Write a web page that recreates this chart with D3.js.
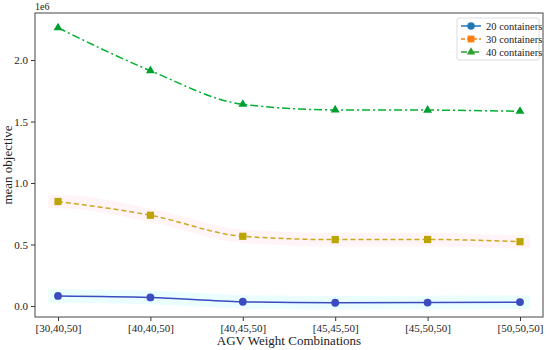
<!DOCTYPE html>
<html>
<head>
<meta charset="utf-8">
<script src="https://cdn.jsdelivr.net/npm/d3@7"></script>
<style>
  body { margin: 0; background: #fff; }
  svg text { font-family: "Liberation Serif", "DejaVu Serif", serif; fill: #222; }
</style>
</head>
<body>
<div class="chart"></div>
<script>
"use strict";

// data (objective values in units of 1e6)
const categories = ["[30,40,50]", "[40,40,50]", "[40,45,50]", "[45,45,50]", "[45,50,50]", "[50,50,50]"];
const seriesNames = ["20 containers", "30 containers", "40 containers"];
const c20 = [0.082, 0.070, 0.035, 0.027, 0.028, 0.032];
const c30 = [0.850, 0.738, 0.567, 0.540, 0.541, 0.523];
const c40 = [2.262, 1.913, 1.640, 1.594, 1.593, 1.583];
const yTicks = [0.0, 0.5, 1.0, 1.5, 2.0];

const W = 550, H = 350;
const MARGIN = { top: 13, right: 7, bottom: 33, left: 35 };
const WIDTH = W - MARGIN.left - MARGIN.right,
  HEIGHT = H - MARGIN.top - MARGIN.bottom;

const svg = d3.select(".chart").append("svg")
  .attr("width", W).attr("height", H);
const g = svg.append("g")
  .attr("transform", `translate(${MARGIN.left},${MARGIN.top})`);

const xScale = d3.scalePoint().domain(categories).range([23, WIDTH - 23]);
const yScale = d3.scaleLinear().domain([-0.089, 2.382]).range([HEIGHT, 0]);

const series = [
  { name: seriesNames[0], values: c20, line: "#3a4cc0", marker: "#3a4cc0", legend: "#1f77b4", band: "#eafdff", spread: 0.055, dash: null, shape: d3.symbolCircle, size: 48 },
  { name: seriesNames[1], values: c30, line: "#d0a820", marker: "#bba500", legend: "#ff7f0e", band: "#fff4f8", spread: 0.055, dash: "5,3", shape: d3.symbolSquare, size: 52 },
  { name: seriesNames[2], values: c40, line: "#00b030", marker: "#00a030", legend: "#2ca02c", band: null, spread: 0, dash: "8,3,2,3", shape: d3.symbolTriangle, size: 34 }
];

// bands
const pad = 10;
series.filter((s) => s.band).forEach((s) => {
  const pts = s.values.map((v, i) => ({ x: xScale(categories[i]), v }));
  pts.unshift({ x: pts[0].x - pad, v: pts[0].v });
  pts.push({ x: pts[pts.length - 1].x + pad, v: pts[pts.length - 1].v });
  const area = d3.area()
    .x((d) => d.x)
    .y0((d) => yScale(d.v - s.spread))
    .y1((d) => yScale(d.v + s.spread))
    .curve(d3.curveMonotoneX);
  g.append("path").datum(pts).attr("d", area).attr("fill", s.band);
});

// lines + markers
series.forEach((s) => {
  const line = d3.line()
    .x((d, i) => xScale(categories[i]))
    .y((d) => yScale(d))
    .curve(d3.curveMonotoneX);
  g.append("path").datum(s.values)
    .attr("d", line)
    .attr("fill", "none")
    .attr("stroke", s.line)
    .attr("stroke-width", 1.5)
    .attr("stroke-dasharray", s.dash);
  g.selectAll(null).data(s.values).enter().append("path")
    .attr("d", d3.symbol().type(s.shape).size(s.size))
    .attr("transform", (d, i) => `translate(${xScale(categories[i])},${yScale(d)})`)
    .attr("fill", s.marker);
});

// axes
const xAxis = d3.axisBottom(xScale).tickSize(4).tickPadding(3);
const yAxis = d3.axisLeft(yScale).tickValues(yTicks).tickFormat(d3.format(".1f")).tickSize(4).tickPadding(3);

const xGroup = g.append("g").attr("transform", `translate(0,${HEIGHT})`).call(xAxis);
const yGroup = g.append("g").call(yAxis);
[xGroup, yGroup].forEach((ax) => {
  ax.select(".domain").remove();
  ax.selectAll("line").attr("stroke", "#333");
  ax.selectAll("text").attr("font-size", 11).attr("fill", "#222")
    .attr("font-family", "Liberation Serif, serif");
});

// frame
g.append("rect").attr("width", WIDTH).attr("height", HEIGHT)
  .attr("fill", "none").attr("stroke", "#444").attr("stroke-width", 1);

// labels
svg.append("text").attr("x", MARGIN.left).attr("y", 10)
  .attr("font-size", 10).text("1e6");
svg.append("text")
  .attr("transform", `translate(12,${MARGIN.top + HEIGHT / 2}) rotate(-90)`)
  .attr("text-anchor", "middle").attr("font-size", 13).text("mean objective");
svg.append("text").attr("x", MARGIN.left + WIDTH / 2).attr("y", 345)
  .attr("text-anchor", "middle").attr("font-size", 13).text("AGV Weight Combinations");

// legend
const legend = svg.append("g").attr("transform", "translate(457,18)");
legend.append("rect").attr("width", 82).attr("height", 42).attr("rx", 2)
  .attr("fill", "#fff").attr("stroke", "#ddd");
series.forEach((s, i) => {
  const row = legend.append("g").attr("transform", `translate(0,${8 + i * 13})`);
  row.append("line").attr("x1", 4).attr("x2", 24)
    .attr("stroke", s.legend).attr("stroke-width", 1.5)
    .attr("stroke-dasharray", s.dash ? (i === 1 ? "4,2" : "6,2,2,2") : null);
  row.append("path").attr("d", d3.symbol().type(s.shape).size(s.size * 0.9))
    .attr("transform", "translate(14,0)").attr("fill", s.legend);
  row.append("text").attr("x", 29).attr("y", 4).attr("font-size", 10.5).text(s.name);
});
</script>
</body>
</html>
